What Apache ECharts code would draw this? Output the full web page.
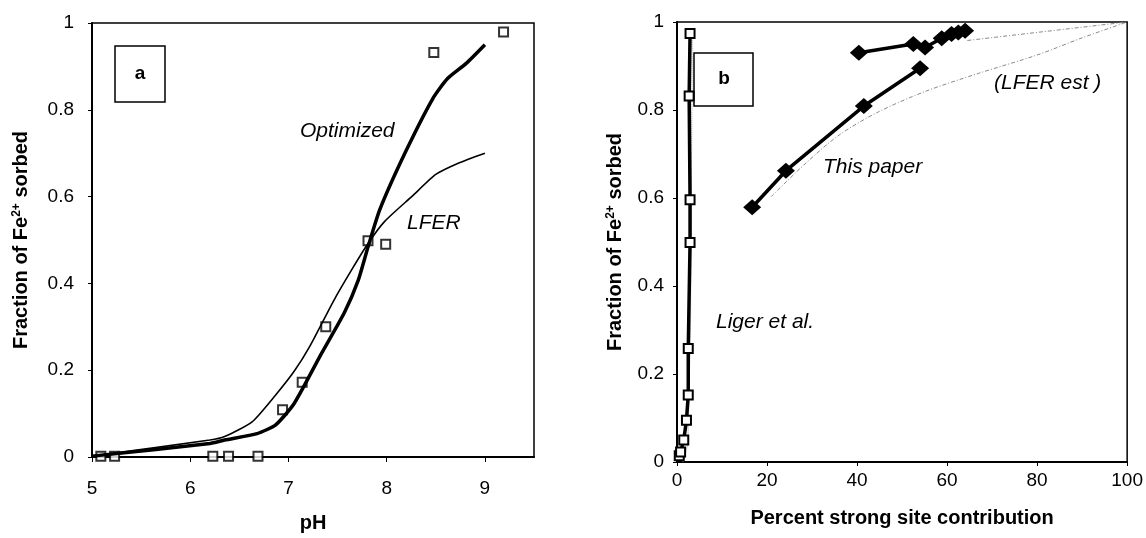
<!DOCTYPE html>
<html>
<head>
<meta charset="utf-8">
<script src="https://cdn.jsdelivr.net/npm/echarts@6/dist/echarts.min.js"></script>
<style>
	html, body { margin: 0; padding: 0; background: #fff; }
	#main { width: 1146px; height: 538px; }
</style>
</head>
<body>
<div id="main"></div>
<script>
// panel a : fraction sorbed vs pH
var phObs = [5.09, 5.23, 6.23, 6.39, 6.69, 6.94, 7.14, 7.38, 7.81, 7.99, 8.48, 9.19];
var fracObs = [0.002, 0.002, 0.002, 0.002, 0.002, 0.109, 0.172, 0.300, 0.498, 0.490, 0.932, 0.979];

var phOpt = [5.0, 6.2, 6.35, 6.68, 6.87, 7.06, 7.33, 7.57, 7.71, 7.81, 7.93, 8.19, 8.47, 8.62, 8.81, 9.0];
var fracOpt = [0.002, 0.031, 0.039, 0.054, 0.074, 0.124, 0.236, 0.333, 0.407, 0.484, 0.570, 0.702, 0.826, 0.872, 0.907, 0.950];

var phLfer = [5.0, 6.2, 6.35, 6.63, 6.87, 7.06, 7.22, 7.46, 7.64, 7.81, 7.98, 8.26, 8.50, 8.74, 9.0];
var fracLfer = [0.002, 0.039, 0.047, 0.081, 0.143, 0.198, 0.256, 0.360, 0.430, 0.492, 0.543, 0.601, 0.651, 0.678, 0.700];

// panel b : fraction sorbed vs percent strong site contribution
var ligerX = [0.5, 0.8, 1.5, 2.1, 2.5, 2.5, 2.9, 2.9, 2.7, 2.9];
var ligerY = [0.014, 0.023, 0.050, 0.095, 0.152, 0.258, 0.499, 0.596, 0.832, 0.974];

var ligerEstX = [1.3, 2.4, 3.0, 3.4];
var ligerEstY = [0.0, 0.04, 0.30, 0.97];

var paperLowX = [16.7, 24.2, 41.5, 54.0];
var paperLowY = [0.579, 0.662, 0.809, 0.895];

var paperHighX = [40.4, 52.5, 55.1, 58.8, 61.0, 62.5, 64.0];
var paperHighY = [0.930, 0.950, 0.942, 0.963, 0.973, 0.976, 0.980];

var estLowX = [20.9, 28.6, 36.0, 44.8, 55.1, 66.9, 80, 90, 100];
var estLowY = [0.603, 0.679, 0.743, 0.796, 0.842, 0.883, 0.925, 0.964, 1.0];

var estHighX = [64.5, 100];
var estHighY = [0.958, 1.0];

function pairs(xs, ys) {
	return xs.map(function (x, i) { return [x, ys[i]]; });
}

var font = 'Arial, "Liberation Sans", sans-serif';
var yName = 'Fraction of Fe{sup|2+} sorbed';
var nameRich = {
	sup: { fontSize: 12, fontWeight: 'bold', fontFamily: font, color: '#000', padding: [0, 0, 9, 0] }
};

function yAxisOpt(gridIndex, gap, margin) {
	return {
		gridIndex: gridIndex,
		type: 'value',
		min: 0, max: 1, interval: 0.2,
		name: yName,
		nameLocation: 'middle',
		nameGap: gap,
		nameTextStyle: { fontSize: 20, fontWeight: 'bold', fontFamily: font, color: '#000', rich: nameRich },
		axisLine: { show: true, lineStyle: { color: '#000', width: 2 } },
		axisTick: { show: true, length: 4, lineStyle: { color: '#000' } },
		axisLabel: { fontSize: 19, fontFamily: font, color: '#000', margin: margin },
		splitLine: { show: false }
	};
}

var chartDom = document.getElementById('main');
var myChart = echarts.init(chartDom);
var option;

option = {
	animation: false,
	backgroundColor: '#fff',
	grid: [
		{ left: 92, right: 612, top: 23, bottom: 74, show: true, borderColor: '#000', borderWidth: 1.5 },
		{ left: 677, right: 16, top: 22, bottom: 76, show: true, borderColor: '#000', borderWidth: 1.5 }
	],
	xAxis: [
		{
			gridIndex: 0,
			type: 'value',
			min: 5, max: 9.5, interval: 1,
			name: 'pH',
			nameLocation: 'middle',
			nameGap: 56,
			nameTextStyle: { fontSize: 20, fontWeight: 'bold', fontFamily: font, color: '#000' },
			axisLine: { show: true, lineStyle: { color: '#000', width: 2 } },
			axisTick: { show: true, length: 5, lineStyle: { color: '#000' } },
			axisLabel: { fontSize: 19, fontFamily: font, color: '#000', margin: 22, showMaxLabel: false },
			splitLine: { show: false }
		},
		{
			gridIndex: 1,
			type: 'value',
			min: 0, max: 100, interval: 20,
			name: 'Percent strong site contribution',
			nameLocation: 'middle',
			nameGap: 46,
			nameTextStyle: { fontSize: 20, fontWeight: 'bold', fontFamily: font, color: '#000' },
			axisLine: { show: true, lineStyle: { color: '#000', width: 2 } },
			axisTick: { show: true, length: 4, lineStyle: { color: '#000' } },
			axisLabel: { fontSize: 19, fontFamily: font, color: '#000', margin: 9 },
			splitLine: { show: false }
		}
	],
	yAxis: [
		yAxisOpt(0, 60, 18),
		yAxisOpt(1, 51, 13)
	],
	series: [
		{
			name: 'LFER',
			type: 'line',
			xAxisIndex: 0, yAxisIndex: 0,
			data: pairs(phLfer, fracLfer),
			showSymbol: false,
			smooth: 0.2,
			lineStyle: { color: '#000', width: 1.6 }
		},
		{
			name: 'Optimized',
			type: 'line',
			xAxisIndex: 0, yAxisIndex: 0,
			data: pairs(phOpt, fracOpt),
			showSymbol: false,
			smooth: 0.2,
			lineStyle: { color: '#000', width: 3.5 }
		},
		{
			name: 'Observed',
			type: 'scatter',
			xAxisIndex: 0, yAxisIndex: 0,
			data: pairs(phObs, fracObs),
			symbol: 'rect',
			symbolSize: 9,
			itemStyle: { color: '#fff', borderColor: '#000', borderWidth: 2 }
		},
		{
			name: 'Liger est',
			type: 'line',
			xAxisIndex: 1, yAxisIndex: 1,
			data: pairs(ligerEstX, ligerEstY),
			showSymbol: false,
			lineStyle: { color: '#999', width: 1, type: 'dotted' }
		},
		{
			name: 'LFER est low',
			type: 'line',
			xAxisIndex: 1, yAxisIndex: 1,
			data: pairs(estLowX, estLowY),
			showSymbol: false,
			smooth: 0.3,
			lineStyle: { color: '#888', width: 1, type: [4, 2, 1, 2] }
		},
		{
			name: 'LFER est high',
			type: 'line',
			xAxisIndex: 1, yAxisIndex: 1,
			data: pairs(estHighX, estHighY),
			showSymbol: false,
			lineStyle: { color: '#888', width: 1, type: [4, 2, 1, 2] }
		},
		{
			name: 'Liger et al.',
			type: 'line',
			xAxisIndex: 1, yAxisIndex: 1,
			data: pairs(ligerX, ligerY),
			symbol: 'rect',
			symbolSize: 9,
			showAllSymbol: true,
			lineStyle: { color: '#000', width: 3.5 },
			itemStyle: { color: '#fff', borderColor: '#000', borderWidth: 2 }
		},
		{
			name: 'This paper low',
			type: 'line',
			xAxisIndex: 1, yAxisIndex: 1,
			data: pairs(paperLowX, paperLowY),
			symbol: 'diamond',
			symbolSize: [18, 16],
			lineStyle: { color: '#000', width: 3.5 },
			itemStyle: { color: '#000' }
		},
		{
			name: 'This paper high',
			type: 'line',
			xAxisIndex: 1, yAxisIndex: 1,
			data: pairs(paperHighX, paperHighY),
			symbol: 'diamond',
			symbolSize: [18, 16],
			showAllSymbol: true,
			lineStyle: { color: '#000', width: 3.5 },
			itemStyle: { color: '#000' }
		}
	],
	graphic: [
		{
			type: 'rect',
			shape: { x: 115, y: 46, width: 50, height: 56 },
			style: { fill: '#fff', stroke: '#000', lineWidth: 1.5 }
		},
		{
			type: 'text', x: 140, y: 74,
			style: { text: 'a', font: 'bold 19px ' + font, fill: '#000', textAlign: 'center', textVerticalAlign: 'middle' }
		},
		{
			type: 'rect',
			shape: { x: 694, y: 53, width: 59, height: 53 },
			style: { fill: '#fff', stroke: '#000', lineWidth: 1.5 }
		},
		{
			type: 'text', x: 724, y: 79,
			style: { text: 'b', font: 'bold 19px ' + font, fill: '#000', textAlign: 'center', textVerticalAlign: 'middle' }
		},
		{
			type: 'text', x: 300, y: 131,
			style: { text: 'Optimized', font: 'italic 21px ' + font, fill: '#000', textVerticalAlign: 'middle' }
		},
		{
			type: 'text', x: 407, y: 223,
			style: { text: 'LFER', font: 'italic 21px ' + font, fill: '#000', textVerticalAlign: 'middle' }
		},
		{
			type: 'text', x: 823, y: 167,
			style: { text: 'This paper', font: 'italic 21px ' + font, fill: '#000', textVerticalAlign: 'middle' }
		},
		{
			type: 'text', x: 994, y: 83,
			style: { text: '(LFER est )', font: 'italic 21px ' + font, fill: '#000', textVerticalAlign: 'middle' }
		},
		{
			type: 'text', x: 716, y: 322,
			style: { text: 'Liger et al.', font: 'italic 21px ' + font, fill: '#000', textVerticalAlign: 'middle' }
		}
	]
};

option && myChart.setOption(option);

window.addEventListener('resize', function () {
	myChart.resize();
});
</script>
</body>
</html>
